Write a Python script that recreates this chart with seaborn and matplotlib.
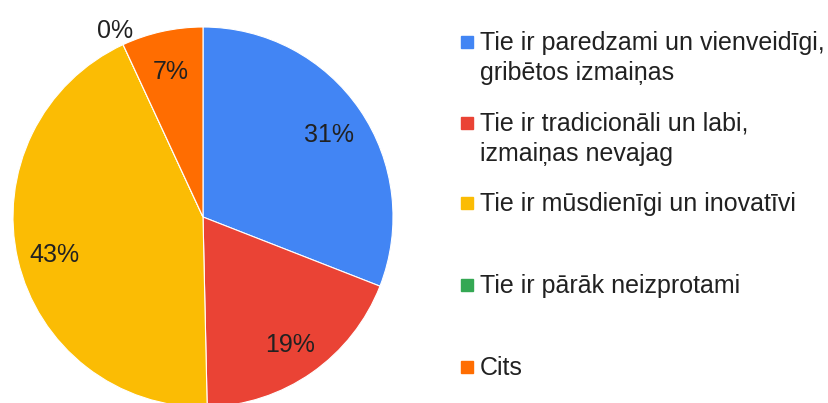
import numpy as np
import matplotlib
matplotlib.use("Agg")
import matplotlib.pyplot as plt
from matplotlib.patches import Rectangle
import seaborn as sns

# answer shares
categories = [
    "Tie ir paredzami un vienveidīgi,\ngribētos izmaiņas",
    "Tie ir tradicionāli un labi,\nizmaiņas nevajag",
    "Tie ir mūsdienīgi un inovatīvi",
    "Tie ir pārāk neizprotami",
    "Cits",
]
shares = [30.9, 18.7, 43.4, 0.0, 6.9]
colors = ["#4285F4", "#EA4335", "#FBBC04", "#34A853", "#FF6D01"]

sns.set_theme(style="white")
plt.rcParams["font.family"] = ["Liberation Sans", "DejaVu Sans"]

W, H = 829, 403
fig = plt.figure(figsize=(W / 100, H / 100), dpi=100)

# pie centre (203, 217) px, radius 190 px
cx, cy, R = 203, 217, 190
ax = fig.add_axes([(cx - R) / W, (H - cy - R) / H, 2 * R / W, 2 * R / H])
wedges, _ = ax.pie(shares, colors=colors, startangle=90, counterclock=False,
                   radius=1, wedgeprops=dict(edgecolor="white", linewidth=0.8))
ax.set_xlim(-1, 1)
ax.set_ylim(-1, 1)
ax.set_aspect("equal")
ax.axis("off")

total = sum(shares)
for w, v in zip(wedges, shares):
    mid = np.deg2rad((w.theta1 + w.theta2) / 2)
    d = 1.1 if v == 0 else 0.8
    ax.text(d * np.cos(mid), d * np.sin(mid) - 0.02, f"{v / total * 100:.0f}%",
            ha="center", va="center", fontsize=18, color="#212121",
            clip_on=False)

# legend on the right
row_y = [42, 123, 203, 285, 367]
for lab, c, y in zip(categories, colors, row_y):
    fig.patches.append(Rectangle((461 / W, 1 - (y + 6) / H), 12 / W, 12 / H,
                                 transform=fig.transFigure, color=c))
    fig.text(480 / W, 1 - (y - 11) / H, lab, ha="left", va="top",
             fontsize=18, color="#212121", linespacing=1.32)

fig.savefig("out.png", dpi=100)
